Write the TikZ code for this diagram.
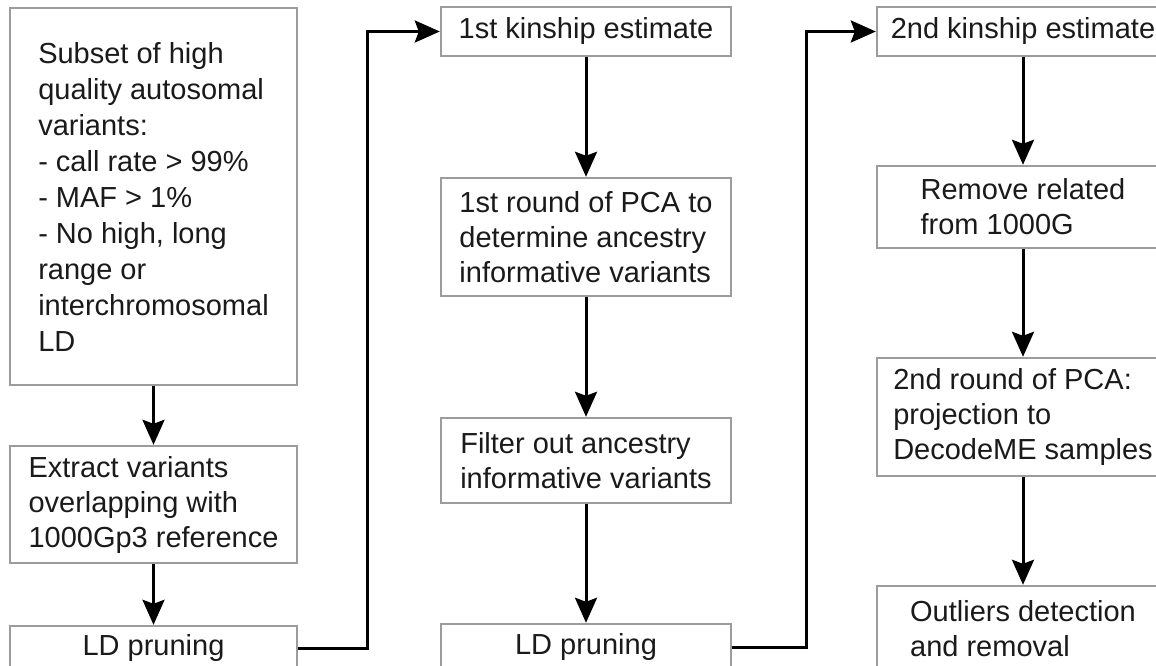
\documentclass[tikz,border=0pt]{standalone}
\usepackage{fontspec}
\setmainfont{Liberation Sans}
\usetikzlibrary{arrows.meta}
\definecolor{boxgray}{HTML}{9C9C9C}
\definecolor{ink}{HTML}{1A1A1A}
\begin{document}
\begin{tikzpicture}[x=1pt,y=-1pt,
  box/.style={draw=boxgray, line width=2.4pt, fill=white, inner sep=0pt,
    align=left, text=ink, font=\fontsize{29}{35}\selectfont},
  conn/.style={draw=black, line width=3pt,
    -{Stealth[length=25pt,width=22pt,inset=4pt]}}]
\useasboundingbox (0,0) rectangle (1156,666);
\clip (0,0) rectangle (1156,666);

% left column
\node[box, minimum width=287pt, minimum height=377pt,
  font=\fontsize{29}{36}\selectfont] (b1) at (153.5,196.5)
  {Subset of high\\quality autosomal\\variants:\\- call rate > 99\%\\- MAF > 1\%\\- No high, long\\range or\\interchromosomal\\LD};
\node[box, minimum width=287pt, minimum height=117pt] (b2) at (153.5,504.5)
  {Extract variants\\overlapping with\\1000Gp3 reference};
\node[box, minimum width=287pt, minimum height=44pt] (b3) at (153.5,648)
  {LD pruning};

% middle column
\node[box, minimum width=290pt, minimum height=49pt] (b4) at (586,31.5)
  {1st kinship estimate};
\node[box, minimum width=290pt, minimum height=118pt] (b5) at (586,237)
  {1st round of PCA to\\determine ancestry\\informative variants};
\node[box, minimum width=290pt, minimum height=85pt] (b6) at (586,460.5)
  {Filter out ancestry\\informative variants};
\node[box, minimum width=290pt, minimum height=46pt] (b7) at (586,647)
  {LD pruning};

% right column
\node[box, minimum width=292pt, minimum height=49pt] (b8) at (1023,31.5)
  {2nd kinship estimate};
\node[box, minimum width=292pt, minimum height=82pt] (b9) at (1023,207)
  {Remove related\\from 1000G};
\node[box, minimum width=292pt, minimum height=118pt] (b10) at (1023,417)
  {2nd round of PCA:\\projection to\\DecodeME samples};
\node[box, minimum width=292pt, minimum height=86pt] (b11) at (1023,629)
  {Outliers detection\\and removal};

% routing columns of the elbow connectors
\coordinate (k1) at (367,0);
\coordinate (k2) at (806,0);

% connectors
\draw[conn] (b1.south) -- (b2.north);
\draw[conn] (b2.south) -- (b3.north);
\draw[conn] (b3.east) -- (b3.east -| k1) -- (k1 |- b4.west) -- (b4.west);
\draw[conn] (b4.south) -- (b5.north);
\draw[conn] (b5.south) -- (b6.north);
\draw[conn] (b6.south) -- (b7.north);
\draw[conn] (b7.east) -- (b7.east -| k2) -- (k2 |- b8.west) -- (b8.west);
\draw[conn] (b8.south) -- (b9.north);
\draw[conn] (b9.south) -- (b10.north);
\draw[conn] (b10.south) -- (b11.north);
\end{tikzpicture}
\end{document}
